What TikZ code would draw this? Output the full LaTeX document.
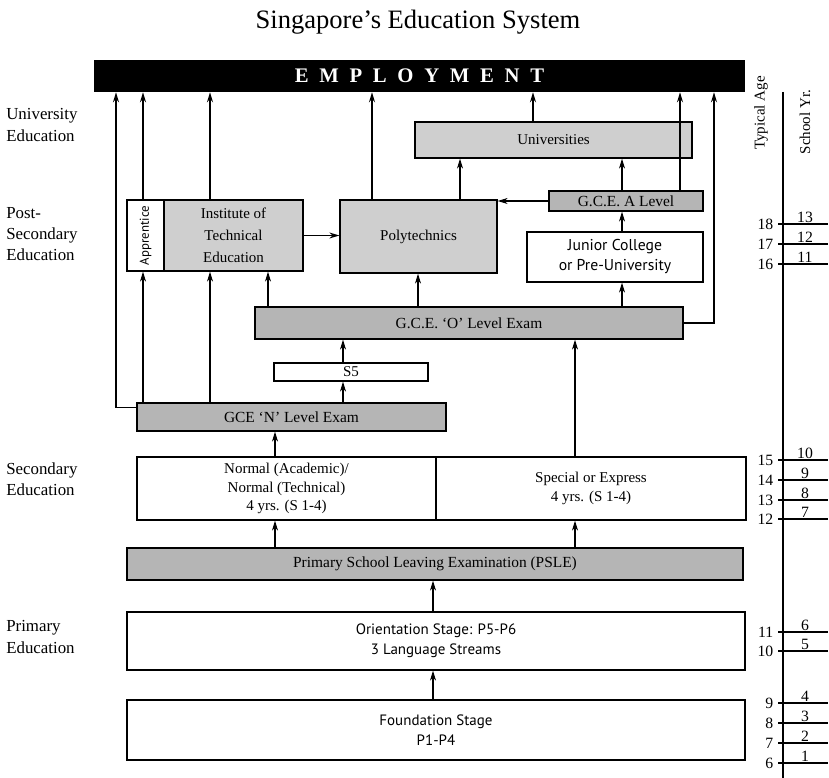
\documentclass[tikz,border=0pt]{standalone}
\usepackage{fontspec}
\setmainfont{Liberation Serif}
\newfontfamily\optfont{PT Sans}
\usetikzlibrary{arrows.meta,shadows}

\tikzset{
  sz/.style n args={2}{minimum width=#1*0.7pt, minimum height=#2*0.7pt},
  plainbox/.style={draw, line width=0.9pt, fill=white, inner sep=0pt, align=center,
    font=\fontsize{10.5}{13}\selectfont,
    drop shadow={shadow xshift=0.9pt, shadow yshift=-0.9pt, opacity=1, fill=black}},
  greybox/.style={plainbox, fill=gray!38},
  exambox/.style={plainbox, fill=gray!58, font=\fontsize{10.8}{13}\selectfont},
  sansbox/.style={plainbox, font=\optfont\fontsize{10.5}{14}\selectfont},
  flow/.style={->, line width=0.8pt},
  sidelabel/.style={anchor=west, align=left, inner sep=0pt, font=\fontsize{11.8}{15}\selectfont},
  scalenum/.style={inner sep=1pt, font=\fontsize{11}{13}\selectfont},
}

\begin{document}
\begin{tikzpicture}[x=0.7pt, y=-0.7pt, >={Stealth[length=7pt,width=4.2pt]}]
\useasboundingbox (0,0) rectangle (829,778);

\node[font=\fontsize{18.6}{22}\selectfont] (title) at (418,22) {Singapore's Education System};

\node[fill=black, text=white, sz={651}{32}, inner sep=0pt, font=\bfseries\fontsize{14.5}{16}\selectfont]
  (emp) at (419.5,76) {\spaceskip=7.5pt E M P L O Y M E N T};

% stage labels on the left
\node[sidelabel] (lbuni) at (6,125) {University\\Education};
\node[sidelabel] (lbpost) at (6,234) {Post-\\Secondary\\Education};
\node[sidelabel] (lbsec) at (6,479) {Secondary\\Education};
\node[sidelabel] (lbpri) at (6,637) {Primary\\Education};

% boxes
\node[greybox, sz={277}{36}] (univ) at (553.5,140) {Universities};
\node[exambox, sz={154}{20}] (alevel) at (626,201) {G.C.E. A Level};
\node[greybox, sz={157}{73}] (poly) at (418.5,236.5) {Polytechnics};
\node[sansbox, sz={176}{50}, font=\optfont\fontsize{11}{14}\selectfont] (jc) at (615,257) {Junior College\\or Pre-University};
\node[plainbox, sz={37}{71}] (appr) at (145.5,235.5) {};
\node[rotate=90, inner sep=0pt, font=\optfont\fontsize{9}{11}\selectfont] (apprtext) at (appr) {Apprentice};
\node[greybox, sz={139}{71}, font=\fontsize{10.5}{15.5}\selectfont] (ite) at (233.5,235.5) {Institute of\\Technical\\Education};
\node[exambox, sz={428}{32}] (olevel) at (469,323) {G.C.E. `O' Level Exam};
\node[plainbox, sz={154}{18}] (sfive) at (351,372) {S5};
\node[exambox, sz={309}{28}] (nlevel) at (291.5,417) {GCE `N' Level Exam};
\node[plainbox, sz={299}{63}] (normal) at (286.5,488.5) {Normal (Academic)/\\Normal (Technical)\\4 yrs. (S 1-4)};
\node[plainbox, sz={310}{63}] (special) at (591,488.5) {Special or Express\\4 yrs. (S 1-4)};
\node[exambox, sz={616}{32}] (psle) at (435,564) {Primary School Leaving Examination (PSLE)};
\node[sansbox, sz={618}{58}] (orient) at (436,641) {Orientation Stage: P5-P6\\3 Language Streams};
\node[sansbox, sz={618}{60}] (found) at (436,730) {Foundation Stage\\P1-P4};

% columns of the arrows
\foreach \n/\x in {c1/116, c2/143, c3/210, c4/268, c5/275, c6/343, c7/372, c8/418,
                   c9/433, c10/460, c11/533, c12/575, c13/622, c14/680, c15/714}
  \coordinate (\n) at (\x,0);

\draw[flow] ([yshift=-3.5pt]nlevel.north west) -| (c1 |- emp.south);
\draw[flow] (c2 |- nlevel.north) -- (c2 |- appr.south);
\draw[flow] (c2 |- appr.north) -- (c2 |- emp.south);
\draw[flow] (c3 |- nlevel.north) -- (c3 |- ite.south);
\draw[flow] (c3 |- ite.north) -- (c3 |- emp.south);
\draw[flow] (c4 |- olevel.north) -- (c4 |- ite.south);
\draw[flow] (c5 |- psle.north) -- (c5 |- normal.south);
\draw[flow] (c5 |- normal.north) -- (c5 |- nlevel.south);
\draw[flow] (c6 |- nlevel.north) -- (c6 |- sfive.south);
\draw[flow] (c6 |- sfive.north) -- (c6 |- olevel.south);
\draw[flow] (c7 |- poly.north) -- (c7 |- emp.south);
\draw[flow] (c8 |- olevel.north) -- (c8 |- poly.south);
\draw[flow] (c9 |- found.north) -- (c9 |- orient.south);
\draw[flow] (c9 |- orient.north) -- (c9 |- psle.south);
\draw[flow] (c10 |- poly.north) -- (c10 |- univ.south);
\draw[flow] (c11 |- univ.north) -- (c11 |- emp.south);
\draw[flow] (c12 |- psle.north) -- (c12 |- special.south);
\draw[flow] (c12 |- special.north) -- (c12 |- olevel.south);
\draw[flow] (c13 |- olevel.north) -- (c13 |- jc.south);
\draw[flow] (c13 |- jc.north) -- (c13 |- alevel.south);
\draw[flow] (c13 |- alevel.north) -- (c13 |- univ.south);
\draw[flow] (c14 |- alevel.north) -- (c14 |- emp.south);
\draw[flow] (olevel.east) -| (c15 |- emp.south);
\draw[flow] (alevel.west) -- (alevel.west -| poly.east);
\draw[flow] (ite.east) -- (ite.east -| poly.west);

% age scale
\draw[line width=0.9pt] (783,92) -- (783,778);
\node[rotate=90, inner sep=0pt, font=\fontsize{10.5}{12}\selectfont] (agehead) at (761,113) {Typical Age};
\node[rotate=90, inner sep=0pt, font=\fontsize{10.5}{12}\selectfont] (yrhead) at (805,122) {School Yr.};
\foreach \a/\y in {18/224, 17/244, 16/264, 15/460, 14/480, 13/500, 12/519,
                   11/632, 10/651, 9/703, 8/723, 7/743, 6/763}{
  \pgfmathtruncatemacro{\yr}{\a-5}
  \draw[line width=0.8pt] (778,\y) -- (828,\y);
  \node[scalenum, anchor=east] (age\a) at (775,\y) {\a};
  \node[scalenum, anchor=south] (yr\yr) at (805,\y) {\yr};
}
\end{tikzpicture}
\end{document}
